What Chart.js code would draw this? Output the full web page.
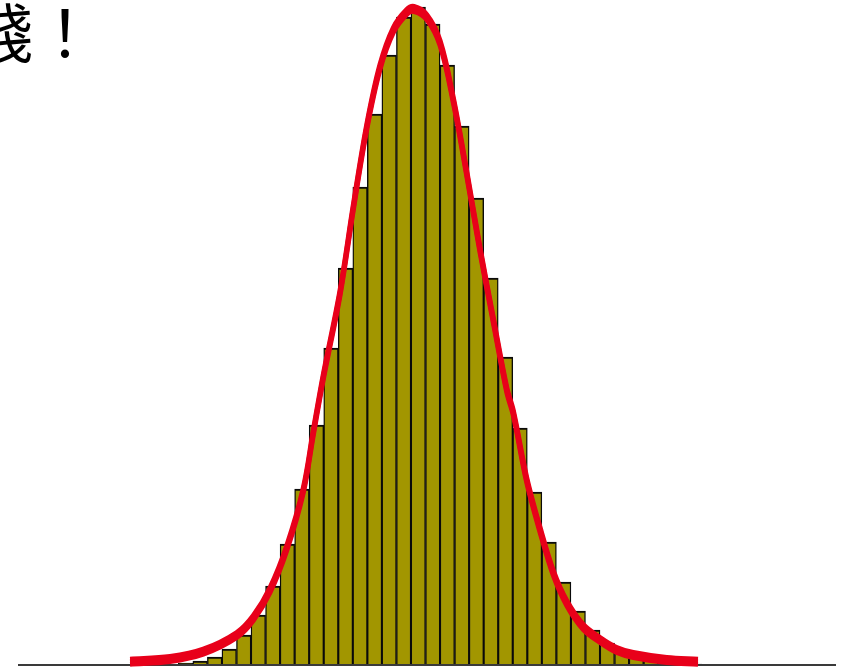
<!DOCTYPE html>
<html>
<head>
<meta charset="utf-8">
<script src="https://cdn.jsdelivr.net/npm/chart.js@4/dist/chart.umd.min.js"></script>
<style>
  html, body { margin: 0; padding: 0; background: #ffffff; }
  canvas { display: block; }
</style>
</head>
<body>
<canvas id="hist" width="856" height="670"></canvas>
<script>
// Histogram bins (centre of each bin, in bin units) and their frequencies
const binCenters = [0.5, 1.5, 2.5, 3.5, 4.5, 5.5, 6.5, 7.5, 8.5, 9.5, 10.5, 11.5,
  12.5, 13.5, 14.5, 15.5, 16.5, 17.5, 18.5, 19.5, 20.5, 21.5, 22.5, 23.5,
  24.5, 25.5, 26.5, 27.5, 28.5, 29.5, 30.5, 31.5, 32.5, 33.5, 34.5, 35.5];
const binCounts = [2, 4, 8, 16, 30, 50, 79, 121, 176, 240, 317, 397,
  478, 551, 610, 648, 658, 641, 600, 539, 467, 387, 308, 237,
  173, 123, 83, 54, 35, 22, 13, 8, 5, 3, 2, 1];

// Fitted density curve, sampled along the same axis
const curveX = [-3.32, -0.57, 1.72, 4.02, 5.16, 6.31, 7.46, 8.60, 9.28, 9.97,
  11.12, 12.04, 12.96, 13.87, 14.79, 15.71, 16.21, 17.08, 18.00, 18.91,
  19.83, 20.75, 21.66, 22.59, 23.04, 23.96, 24.88, 25.79, 26.71, 27.85,
  29.00, 30.15, 31.29, 33.59, 35.74];
const curveY = [3.3, 6, 13.3, 30, 47, 75, 117, 175, 232, 288,
  372, 458, 538, 598, 635, 653, 656, 648, 622, 565,
  492, 415, 345, 275, 252, 185, 135, 92, 62, 38,
  25, 15, 10, 5, 3.3];

const headline = '錢！';

const barPoints = binCenters.map((x, i) => ({ x: x, y: binCounts[i] }));
const curvePoints = curveX.map((x, i) => ({ x: x, y: curveY[i] }));

// Horizontal base line drawn at zero, right after the bars
const baseLine = {
  id: 'baseLine',
  afterDatasetDraw(chart, args) {
    if (args.meta.type !== 'bar') return;
    const ctx = chart.ctx;
    const y = chart.scales.y.getPixelForValue(0);
    ctx.save();
    ctx.strokeStyle = '#3a3a3a';
    ctx.lineWidth = 2;
    ctx.beginPath();
    ctx.moveTo(chart.chartArea.left, y);
    ctx.lineTo(chart.chartArea.right, y);
    ctx.stroke();
    ctx.restore();
  }
};

// Gives the curve a pen that is taller than it is wide
const tallPen = {
  id: 'tallPen',
  afterDatasetDraw(chart, args) {
    if (args.meta.type !== 'line') return;
    const ctx = chart.ctx;
    [-2.5, 2.5].forEach(dy => {
      ctx.save();
      ctx.translate(0, dy);
      args.meta.dataset.draw(ctx, chart.chartArea);
      ctx.restore();
    });
  }
};

// Large caption in the upper left corner
const caption = {
  id: 'caption',
  afterDraw(chart) {
    const ctx = chart.ctx;
    ctx.save();
    ctx.fillStyle = '#000000';
    ctx.font = '64px "Noto Sans CJK TC"';
    ctx.textAlign = 'left';
    ctx.textBaseline = 'alphabetic';
    ctx.fillText(headline, -31, 57);
    ctx.restore();
  }
};

new Chart(document.getElementById('hist'), {
  type: 'bar',
  data: {
    datasets: [
      {
        type: 'bar',
        data: barPoints,
        backgroundColor: '#a29600',
        borderColor: '#0a0a0a',
        borderWidth: { top: 2, left: 1.4, right: 1.4, bottom: 0 },
        borderSkipped: false,
        barPercentage: 1.0,
        categoryPercentage: 1.0,
        order: 1
      },
      {
        type: 'line',
        data: curvePoints,
        borderColor: '#e8001a',
        borderWidth: 5,
        borderCapStyle: 'butt',
        borderJoinStyle: 'round',
        tension: 0.35,
        pointRadius: 0,
        fill: false,
        clip: false,
        order: 0
      }
    ]
  },
  options: {
    responsive: false,
    animation: false,
    layout: { padding: { left: 18, right: 20, top: 0, bottom: 5 } },
    plugins: {
      legend: { display: false },
      tooltip: { enabled: false },
      title: { display: false }
    },
    scales: {
      x: {
        type: 'linear',
        display: false,
        offset: false,
        min: -11.025,
        max: 45.23
      },
      y: {
        type: 'linear',
        display: false,
        min: 0,
        max: 665
      }
    }
  },
  plugins: [baseLine, tallPen, caption]
});
</script>
</body>
</html>
